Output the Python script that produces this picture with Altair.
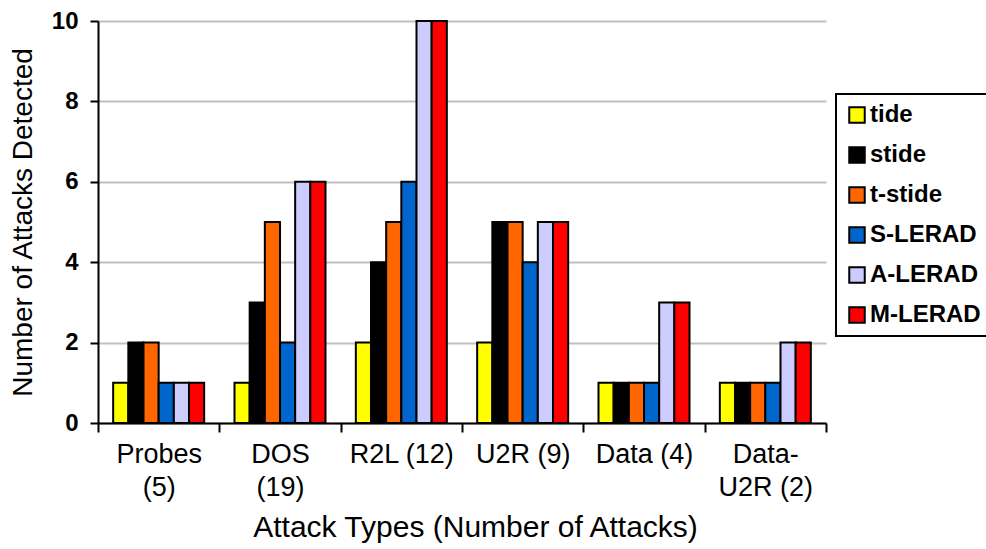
import altair as alt
import pandas as pd

categories = ["Probes|(5)", "DOS|(19)", "R2L (12)", "U2R (9)", "Data (4)", "Data-|U2R (2)"]
series = ["tide", "stide", "t-stide", "S-LERAD", "A-LERAD", "M-LERAD"]
colors = ["#FFFF00", "#000000", "#FF6600", "#0066CC", "#CCCCFF", "#FF0000"]
values = {
    "tide":    [1, 1, 2, 2, 1, 1],
    "stide":   [2, 3, 4, 5, 1, 1],
    "t-stide": [2, 5, 5, 5, 1, 1],
    "S-LERAD": [1, 2, 6, 4, 1, 1],
    "A-LERAD": [1, 6, 10, 5, 3, 2],
    "M-LERAD": [1, 6, 10, 5, 3, 2],
}

rows = []
for s in series:
    for c, v in zip(categories, values[s]):
        rows.append({"cat": c, "series": s, "value": v})
df = pd.DataFrame(rows)

FONT = "Liberation Sans"

chart = alt.Chart(df).mark_bar(stroke="black", strokeWidth=2).encode(
    x=alt.X("cat:N", sort=categories,
            scale=alt.Scale(paddingInner=0, paddingOuter=0),
            axis=alt.Axis(title="Attack Types (Number of Attacks)", labelAngle=0,
                          labelExpr="split(datum.label, '|')",
                          tickBand="extent", tickSize=9, tickWidth=2, tickColor="black",
                          domainColor="black", domainWidth=2,
                          labelFont=FONT, labelFontSize=27, labelColor="black",
                          labelLineHeight=33, labelPadding=9, labelBaseline="top",
                          titleFont=FONT, titleFontSize=30, titleFontWeight="normal",
                          titleColor="black", titlePadding=12, titleX=377, grid=False)),
    xOffset=alt.XOffset("series:N", sort=series,
                        scale=alt.Scale(paddingOuter=1, paddingInner=0)),
    y=alt.Y("value:Q", scale=alt.Scale(domain=[0, 10]),
            axis=alt.Axis(title="Number of Attacks Detected", values=[0, 2, 4, 6, 8, 10],
                          tickSize=8, tickWidth=2, tickColor="black",
                          domainColor="black", domainWidth=2,
                          gridColor="#C0C0C0", gridWidth=2,
                          labelFont=FONT, labelFontSize=24, labelFontWeight="bold",
                          labelColor="black", labelPadding=12,
                          titleFont=FONT, titleFontSize=28, titleFontWeight="normal",
                          titleColor="black", titlePadding=14)),
    color=alt.Color("series:N", sort=series,
                    scale=alt.Scale(domain=series, range=colors),
                    legend=alt.Legend(title=None, orient="none", legendX=738, legendY=73,
                                      symbolType="square", symbolSize=240,
                                      symbolStrokeColor="black", symbolStrokeWidth=2,
                                      labelFont=FONT, labelFontSize=24, labelFontWeight="bold",
                                      labelColor="black", labelOffset=1,
                                      rowPadding=16, padding=9,
                                      labelLimit=200, strokeColor="black",
                                      fillColor="white")),
).properties(
    width=728, height=402,
    autosize="none",
    padding={"left": 98, "top": 21, "right": 160, "bottom": 126},
).configure_view(stroke=None).configure_legend(strokeWidth=2)

chart.save("out.html", embed_options={"renderer": "svg", "actions": False})
